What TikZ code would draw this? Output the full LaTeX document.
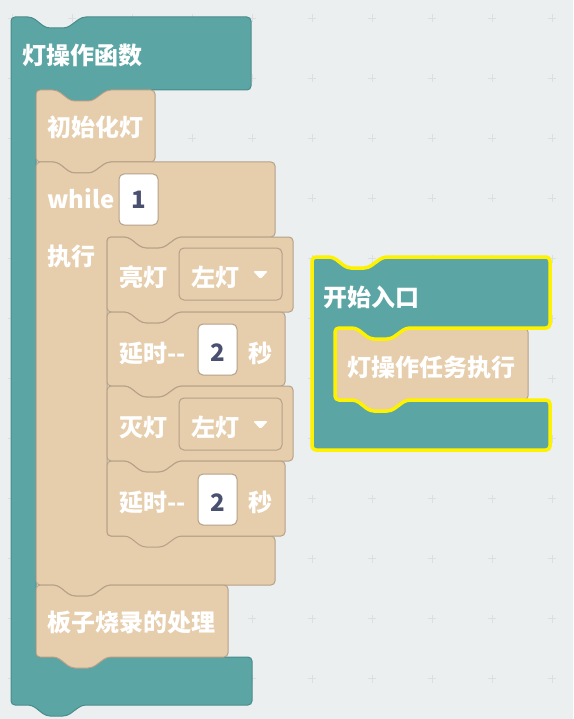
\documentclass[tikz,border=0pt]{standalone}
\usepackage{fontspec}
\setmainfont{Noto Sans CJK SC}
\usepackage{tikz}

\definecolor{canvas}{HTML}{EBEFF0}
\definecolor{gridplus}{HTML}{DCDFE2}
\definecolor{procfill}{HTML}{5BA5A5}
\definecolor{procline}{HTML}{4A8C8B}
\definecolor{stmtfill}{HTML}{E6CDAB}
\definecolor{stmtline}{HTML}{B5A189}
\definecolor{digitcol}{HTML}{4A5170}
\definecolor{glowyellow}{HTML}{FFF200}

\begin{document}
\begin{tikzpicture}[x=1pt,y=-1pt,
    procblock/.style={fill=procfill,draw=procline,line width=1pt,rounded corners=4pt},
    stmtblock/.style={fill=stmtfill,draw=stmtline,line width=1pt,rounded corners=4pt},
    glow/.style={draw=glowyellow,line width=3.5pt,rounded corners=4pt},
    blocktext/.style={text=white,font=\fontsize{24}{24}\selectfont\bfseries,inner sep=0pt,anchor=base west},
    digit/.style={text=digitcol,font=\fontsize{24}{24}\selectfont\bfseries,inner sep=0pt,anchor=base},
    field/.style={fill=white,draw=stmtline,line width=1pt,rounded corners=5pt,inner sep=0pt,minimum width=39pt,minimum height=51pt},
    menu/.style={fill=stmtfill,draw=stmtline,line width=1pt,rounded corners=5pt,inner sep=0pt,minimum width=103pt,minimum height=52pt},
    gridmark/.style={draw=gridplus,line width=1pt}]
        \fill[canvas](0,0)rectangle(573,719);
        \useasboundingbox(0,0)rectangle(573,719);
        \foreach \gx in {12,72,...,552}
            \foreach \gy in {18.5,78.5,...,678.5}
                \draw[gridmark](\gx-4,\gy)--(\gx+4,\gy)(\gx,\gy-4)--(\gx,\gy+4);

        % function block
        \path[procblock](11,705)--(11,17)--(32,17)--++(14,11)--++(21,0)--++(15,-11)--(251,17)--(251,90)
            --(107,90)--++(-15,11)--++(-21,0)--++(-14,-11)--(36,90)--(36,657)--(252,657)--(252,705)
            --(82,705)--++(-15,11)--++(-21,0)--++(-14,-11)--cycle;
        \node[blocktext](fntitle) at (22,65){灯操作函数};

        \path[stmtblock](36,162)--(36,90)--(57,90)--++(14,11)--++(21,0)--++(15,-11)--(155,90)--(155,162)
            --(107,162)--++(-15,11)--++(-21,0)--++(-14,-11)--cycle;
        \node[blocktext](initlamp) at (47,137){初始化灯};

        % while loop
        \path[stmtblock](36,585)--(36,162)--(57,162)--++(14,11)--++(21,0)--++(15,-11)--(275,162)--(275,237)
            --(178,237)--++(-15,11)--++(-21,0)--++(-14,-11)--(107,237)--(107,536)--(275,536)--(275,585)
            --(107,585)--++(-15,11)--++(-21,0)--++(-14,-11)--cycle;
        \node[blocktext](whilekw) at (47,209){while};
        \node[field](whilecond) at (138.5,199.5){};
        \node[digit](condval) at (138.5,209){1};
        \node[blocktext](dokw) at (47,265){执行};

        \path[stmtblock](107,312)--(107,237)--(128,237)--++(14,11)--++(21,0)--++(15,-11)--(293,237)--(293,312)
            --(178,312)--++(-15,11)--++(-21,0)--++(-14,-11)--cycle;
        \node[blocktext](lampon) at (119,286){亮灯};
        \node[menu](lamponsel) at (230.5,274){};
        \node[blocktext](lamponval) at (191,286){左灯};
        \fill[white,rounded corners=1.5pt](253,271)--(268,271)--(260.5,279)--cycle;

        \path[stmtblock](107,386)--(107,312)--(128,312)--++(14,11)--++(21,0)--++(15,-11)--(285,312)--(285,386)
            --(178,386)--++(-15,11)--++(-21,0)--++(-14,-11)--cycle;
        \node[blocktext](delayA) at (119,362){延时\mbox{-}\mbox{-}};
        \node[field](delayAsec) at (217.5,349.5){};
        \node[digit](delayAval) at (217.5,361){2};
        \node[blocktext](delayAunit) at (248,362){秒};

        \path[stmtblock](107,461)--(107,386)--(128,386)--++(14,11)--++(21,0)--++(15,-11)--(293,386)--(293,461)
            --(178,461)--++(-15,11)--++(-21,0)--++(-14,-11)--cycle;
        \node[blocktext](lampoff) at (119,436){灭灯};
        \node[menu](lampoffsel) at (230.5,424){};
        \node[blocktext](lampoffval) at (191,436){左灯};
        \fill[white,rounded corners=1.5pt](253,421)--(268,421)--(260.5,429)--cycle;

        \path[stmtblock](107,536)--(107,461)--(128,461)--++(14,11)--++(21,0)--++(15,-11)--(285,461)--(285,536)
            --(178,536)--++(-15,11)--++(-21,0)--++(-14,-11)--cycle;
        \node[blocktext](delayB) at (119,511){延时\mbox{-}\mbox{-}};
        \node[field](delayBsec) at (217.5,499.5){};
        \node[digit](delayBval) at (217.5,511){2};
        \node[blocktext](delayBunit) at (248,511){秒};

        \path[stmtblock](36,657)--(36,585)--(57,585)--++(14,11)--++(21,0)--++(15,-11)--(228,585)--(228,657)
            --(107,657)--++(-15,11)--++(-21,0)--++(-14,-11)--cycle;
        \node[blocktext](burn) at (47,631){板子烧录的处理};

        % entry block
        \path[procblock](312,450)--(312,257)--(333,257)--++(14,11)--++(21,0)--++(15,-11)--(550,257)--(550,328)
            --(406,328)--++(-15,11)--++(-21,0)--++(-14,-11)--(335,328)--(335,400)
            --(356,400)--++(14,11)--++(21,0)--++(15,-11)--(550,400)--(550,450)--cycle;
        \node[blocktext](entry) at (323,306){开始入口};
        \path[stmtblock](335,400)--(335,328)--(356,328)--++(14,11)--++(21,0)--++(15,-11)--(528,328)--(528,400)
            --(406,400)--++(-15,11)--++(-21,0)--++(-14,-11)--cycle;
        \node[blocktext](lamptask) at (347,376){灯操作任务执行};
        \path[glow](312,450)--(312,257)--(333,257)--++(14,11)--++(21,0)--++(15,-11)--(550,257)--(550,328)
            --(406,328)--++(-15,11)--++(-21,0)--++(-14,-11)--(335,328)--(335,400)
            --(356,400)--++(14,11)--++(21,0)--++(15,-11)--(550,400)--(550,450)--cycle;
\end{tikzpicture}
\end{document}
